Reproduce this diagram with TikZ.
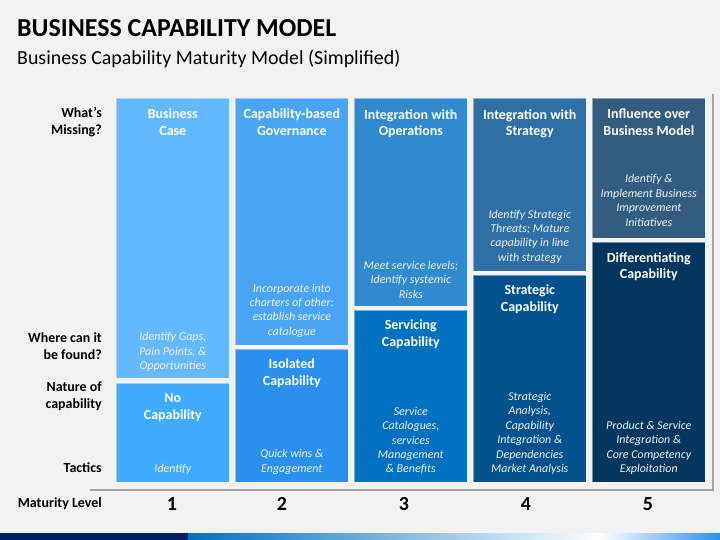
\documentclass[tikz,border=0pt]{standalone}
\usepackage{fontspec}
\setmainfont{Carlito}
\usetikzlibrary{positioning}

\definecolor{slidebg}{HTML}{F2F2F2}
\definecolor{frameline}{HTML}{A6A6A6}
\definecolor{notetext}{HTML}{ECEFF3}
\definecolor{missA}{HTML}{64B9FE}
\definecolor{missB}{HTML}{4AA5F4}
\definecolor{missC}{HTML}{318ACE}
\definecolor{missD}{HTML}{2E70A5}
\definecolor{missE}{HTML}{325D81}
\definecolor{natA}{HTML}{41ACFF}
\definecolor{natB}{HTML}{2B8FEE}
\definecolor{natC}{HTML}{0070C0}
\definecolor{natD}{HTML}{03528E}
\definecolor{natE}{HTML}{00365F}
\definecolor{navy}{HTML}{002060}

\tikzset{
  cell/.style={anchor=north west, minimum width=113bp, inner sep=0pt,
    draw=white, draw opacity=0.45, line width=0.6bp},
  head/.style={text=white, align=center, inner sep=0pt,
    font=\bfseries\fontsize{14}{17}\selectfont},
  note/.style={text=notetext, align=center, inner sep=0pt,
    font=\itshape\fontsize{12}{14.5}\selectfont},
  rowlabel/.style={anchor=east, align=right, inner sep=0pt,
    font=\bfseries\fontsize{14}{17}\selectfont},
  level/.style={inner sep=0pt, font=\bfseries\fontsize{20}{22}\selectfont},
  frame/.style={draw=frameline, line width=1.8bp}
}

\begin{document}
\begin{tikzpicture}[x=1bp, y=-1bp]
\useasboundingbox[fill=slidebg] (0,0) rectangle (720,540);

% heading
\node[anchor=base west, inner sep=0pt, font=\bfseries\fontsize{26}{30}\selectfont]
  (title) at (17,37) {BUSINESS CAPABILITY MODEL};
\node[anchor=base west, inner sep=0pt, font=\fontsize{20}{24}\selectfont]
  (subtitle) at (17,65) {Business Capability Maturity Model (Simplified)};

% row labels
\node[rowlabel] (missing) at (102,122) {What’s\\Missing?};
\node[rowlabel] (found) at (102,346) {Where can it\\be found?};
\node[rowlabel] (nature) at (102,396) {Nature of\\capability};
\node[rowlabel] (tactics) at (102,468) {Tactics};
\node[rowlabel] (maturity) at (102,504) {Maturity Level};

% frame
\coordinate (frametop) at (713,94);
\coordinate (framecorner) at (713,490);
\coordinate (frameleft) at (90,490);
\draw[frame] (frametop) -- (framecorner) -- (frameleft);

% level 1
\node[cell, fill=missA, minimum height=280bp] (miss1) at (116,98) {};
\node[cell, fill=natA, minimum height=99bp] (cap1) at (116,383) {};
\node[head, below=11bp of miss1.north] (miss1head) {Business\\Case};
\node[note, above=7bp of miss1.south] (miss1note) {Identify Gaps,\\Pain Points, \&\\Opportunities};
\node[head, below=10bp of cap1.north] (cap1head) {No\\Capability};
\node[note, above=8bp of cap1.south] (cap1note) {Identify};

% level 2
\node[cell, fill=missB, minimum height=247bp] (miss2) at (235,98) {};
\node[cell, fill=natB, minimum height=133bp] (cap2) at (235,349) {};
\node[head, below=11bp of miss2.north] (miss2head) {Capability-based\\Governance};
\node[note, above=8bp of miss2.south] (miss2note) {Incorporate into\\charters of other:\\establish service\\catalogue};
\node[head, below=10bp of cap2.north] (cap2head) {Isolated\\Capability};
\node[note, above=8bp of cap2.south] (cap2note) {Quick wins \&\\Engagement};

% level 3
\node[cell, fill=missC, minimum height=208bp] (miss3) at (354,98) {};
\node[cell, fill=natC, minimum height=172bp] (cap3) at (354,310) {};
\node[head, below=11bp of miss3.north] (miss3head) {Integration with\\Operations};
\node[note, above=8bp of miss3.south] (miss3note) {Meet service levels;\\Identify systemic\\Risks};
\node[head, below=10bp of cap3.north] (cap3head) {Servicing\\Capability};
\node[note, above=8bp of cap3.south] (cap3note) {Service\\Catalogues,\\services\\Management\\\& Benefits};

% level 4
\node[cell, fill=missD, minimum height=173bp] (miss4) at (473,98) {};
\node[cell, fill=natD, minimum height=207bp] (cap4) at (473,275) {};
\node[head, below=11bp of miss4.north] (miss4head) {Integration with\\Strategy};
\node[note, above=8bp of miss4.south] (miss4note) {Identify Strategic\\Threats; Mature\\capability in line\\with strategy};
\node[head, below=10bp of cap4.north] (cap4head) {Strategic\\Capability};
\node[note, above=8bp of cap4.south] (cap4note) {Strategic\\Analysis,\\Capability\\Integration \&\\Dependencies\\Market Analysis};

% level 5
\node[cell, fill=missE, minimum height=140bp] (miss5) at (592,98) {};
\node[cell, fill=natE, minimum height=240bp] (cap5) at (592,242) {};
\node[head, below=11bp of miss5.north] (miss5head) {Influence over\\Business Model};
\node[note, above=12bp of miss5.south] (miss5note) {Identify \&\\Implement Business\\Improvement\\Initiatives};
\node[head, below=10bp of cap5.north] (cap5head) {Differentiating\\Capability};
\node[note, above=8bp of cap5.south] (cap5note) {Product \& Service\\Integration \&\\Core Competency\\Exploitation};

% maturity levels
\node[level] (lvl1) at (172,504) {1};
\node[level] (lvl2) at (282,504) {2};
\node[level] (lvl3) at (404,504) {3};
\node[level] (lvl4) at (526,504) {4};
\node[level] (lvl5) at (648,504) {5};

% colour strip
\fill[navy] (0,533) rectangle (188,540);
\shade[left color=natC, middle color=cyan!55!white, right color=white] (188,533) rectangle (600,540);
\shade[left color=white, right color=natB] (600,533) rectangle (720,540);
\end{tikzpicture}
\end{document}
